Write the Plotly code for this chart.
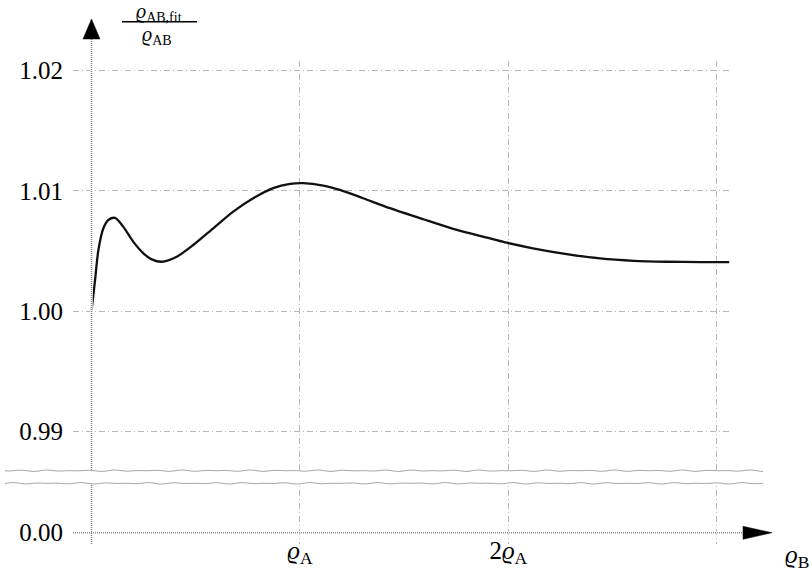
import numpy as np
import plotly.graph_objects as go

# ---- data (x in units of rho_A, y = rho_AB,fit / rho_AB) ----
x_vals = [0.000, 0.017, 0.033, 0.057, 0.081, 0.113, 0.152, 0.200, 0.249, 0.289,
          0.337, 0.409, 0.488, 0.584, 0.680, 0.776, 0.872, 0.953, 1.016, 1.112,
          1.192, 1.303, 1.432, 1.592, 1.753, 1.912, 1.992, 2.118, 2.280, 2.440,
          2.602, 2.761, 2.920, 3.060]
y_vals = [1.00000, 1.00258, 1.00508, 1.00689, 1.00758, 1.00775, 1.00703, 1.00578,
          1.00481, 1.00431, 1.00411, 1.00453, 1.00550, 1.00689, 1.00828, 1.00939,
          1.01023, 1.01058, 1.01064, 1.01044, 1.01008, 1.00939, 1.00856, 1.00764,
          1.00675, 1.00606, 1.00569, 1.00523, 1.00475, 1.00439, 1.00419, 1.00411,
          1.00408, 1.00408]

x_tickvals = [0, 1, 2, 3]
x_ticktext = ["", "<i>ϱ</i><sub>A</sub>", "2<i>ϱ</i><sub>A</sub>", ""]
# the lower part of the axis is broken: "0.00" sits just below the break
y_zero_pos = 0.981592
y_tickvals = [y_zero_pos, 0.99, 1.00, 1.01, 1.02]
y_ticktext = ["0.00", "0.99", "1.00", "1.01", "1.02"]

x_range = [-0.0888, 3.0638]
y_range = [0.980653, 1.020793]

W, H = 812, 576
ML, MR, MT, MB = 73, 82, 61, 32
PW, PH = W - ML - MR, H - MT - MB

FONT = "Liberation Serif, DejaVu Serif, serif"
GRID = "#b8b8b8"
AXC = "#8a8a8a"


def xp(x):  # data x -> paper
    return (x - x_range[0]) / (x_range[1] - x_range[0])


def yp(y):  # data y -> paper
    return (y - y_range[0]) / (y_range[1] - y_range[0])


def pxp(px):  # pixel x -> paper
    return (px - ML) / PW


def pyp(py):  # pixel y -> paper
    return (H - MB - py) / PH


fig = go.Figure()
fig.add_trace(go.Scatter(x=x_vals, y=y_vals, mode="lines",
                         line=dict(color="#111111", width=2.3, shape="spline", smoothing=0.8),
                         hoverinfo="skip", showlegend=False))

shapes = []
# axis lines (white underlay hides the grid line, then dotted axis)
x0p = xp(0)
yzp = yp(y_zero_pos)
y_axis_top = pyp(38)
for col, dash, w in [("white", "solid", 2.5), (AXC, "1px,1px", 1.5)]:
    shapes.append(dict(type="line", xref="paper", yref="paper",
                       x0=x0p, x1=x0p, y0=0, y1=y_axis_top,
                       line=dict(color=col, width=w, dash=dash)))
    shapes.append(dict(type="line", xref="paper", yref="paper",
                       x0=0, x1=pxp(746), y0=yzp, y1=yzp,
                       line=dict(color=col, width=w, dash=dash)))

# axis break: white band with two wavy lines
yb1, yb2 = 470.7, 483.3
shapes.append(dict(type="rect", xref="paper", yref="paper",
                   x0=pxp(4), x1=pxp(764), y0=pyp(yb2), y1=pyp(yb1),
                   fillcolor="white", line=dict(width=0)))
pxs = np.arange(5, 764, 2.0)
for k, yb in enumerate([yb1, yb2]):
    wig = 0.7 * np.sin(pxs / 4.3 + k * 1.7) * np.sin(pxs / 23.0 + k)
    pts = " L".join(f"{pxp(a):.5f},{pyp(yb + d):.5f}" for a, d in zip(pxs, wig))
    shapes.append(dict(type="path", xref="paper", yref="paper", path="M" + pts,
                       line=dict(color="#a8a8a8", width=1)))

# arrow heads
shapes.append(dict(type="path", xref="paper", yref="paper",
                   path=f"M{x0p:.5f},{pyp(19):.5f} L{pxp(91.5 - 8.5):.5f},{pyp(39):.5f} "
                        f"L{pxp(91.5 + 8.5):.5f},{pyp(39):.5f} Z",
                   fillcolor="black", line=dict(color="black", width=0.5)))
shapes.append(dict(type="path", xref="paper", yref="paper",
                   path=f"M{pxp(772):.5f},{yzp:.5f} L{pxp(743):.5f},{pyp(526.3):.5f} "
                        f"L{pxp(743):.5f},{pyp(539.3):.5f} Z",
                   fillcolor="black", line=dict(color="black", width=0.5)))

# fraction bar of the y label
shapes.append(dict(type="line", xref="paper", yref="paper",
                   x0=pxp(122), x1=pxp(197), y0=pyp(21.7), y1=pyp(21.7),
                   line=dict(color="black", width=1.5)))

annotations = [
    dict(text="<i>ϱ</i><sub>AB,fit</sub>", xref="paper", yref="paper",
         x=pxp(159), y=pyp(12), xanchor="center", yanchor="middle", showarrow=False,
         font=dict(family=FONT, size=20, color="black")),
    dict(text="<i>ϱ</i><sub>AB</sub>", xref="paper", yref="paper",
         x=pxp(157), y=pyp(35), xanchor="center", yanchor="middle", showarrow=False,
         font=dict(family=FONT, size=20, color="black")),
    dict(text="<i>ϱ</i><sub>B</sub>", xref="paper", yref="paper",
         x=pxp(797), y=pyp(556), xanchor="center", yanchor="middle", showarrow=False,
         font=dict(family=FONT, size=25, color="black")),
]

fig.update_layout(
    width=W, height=H, autosize=False,
    margin=dict(l=ML, r=MR, t=MT, b=MB, pad=0),
    paper_bgcolor="white", plot_bgcolor="white",
    shapes=shapes, annotations=annotations, showlegend=False,
    xaxis=dict(range=x_range, tickvals=x_tickvals, ticktext=x_ticktext, automargin=False,
               showgrid=True, gridcolor=GRID, griddash="6px,3px,1px,3px", gridwidth=1,
               zeroline=False, showline=False, ticks="", ticklabelstandoff=-11,
               tickfont=dict(family=FONT, size=25, color="black")),
    yaxis=dict(range=y_range, tickvals=y_tickvals, ticktext=y_ticktext, automargin=False,
               showgrid=True, gridcolor=GRID, griddash="6px,3px,1px,3px", gridwidth=1,
               zeroline=False, showline=False, ticks="", ticklabelstandoff=9,
               tickfont=dict(family=FONT, size=25, color="black")),
)

fig.write_html("out.html")
